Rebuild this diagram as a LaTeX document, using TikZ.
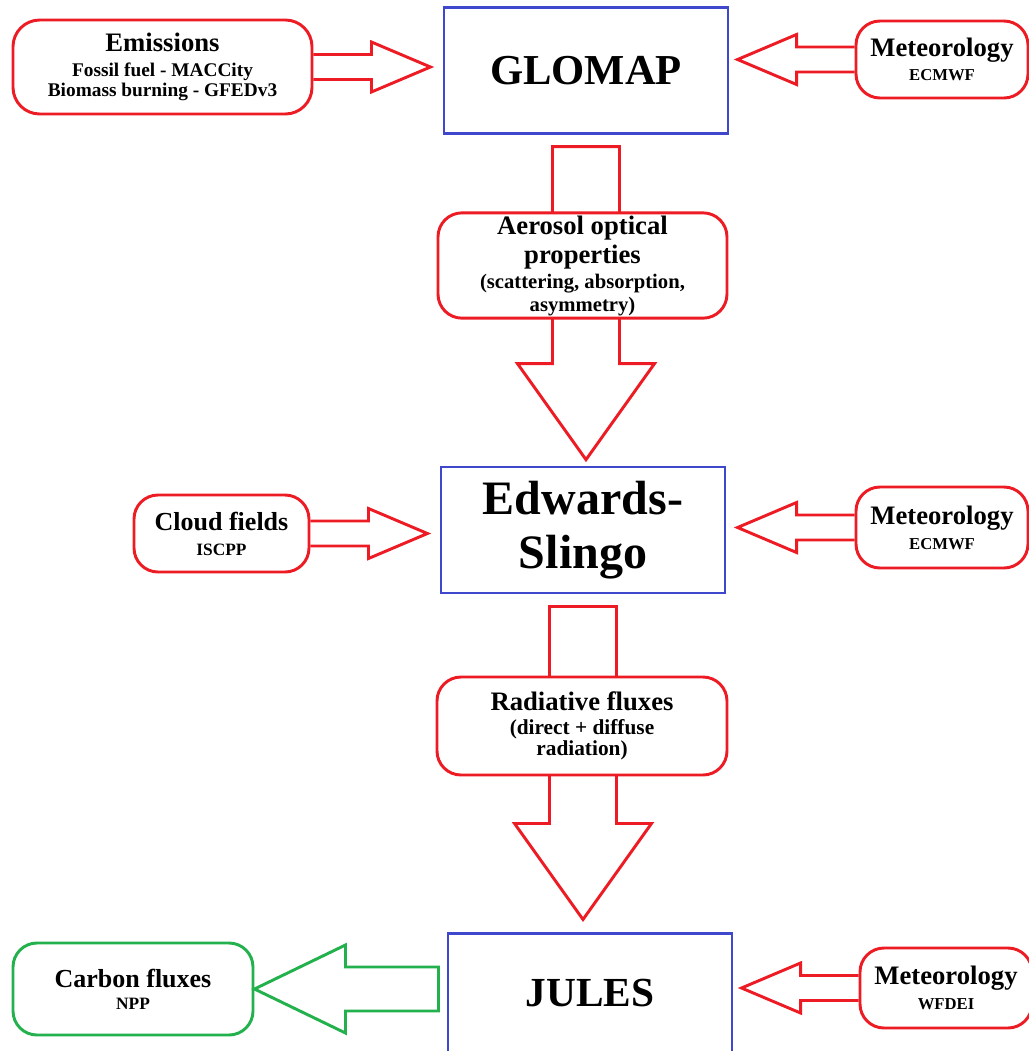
\documentclass[tikz,border=0pt]{standalone}
\usepackage{fontspec}
\setmainfont{Liberation Serif}
\definecolor{modelblue}{HTML}{3F48CC}
\definecolor{inred}{HTML}{ED1C24}
\definecolor{outgreen}{HTML}{22B14C}
\newcommand{\subtxt}[2]{{\fontsize{#1}{#1}\selectfont #2}}

\begin{document}
\begin{tikzpicture}[x=0.75pt,y=-0.75pt,
    modelbox/.style={draw=modelblue,line width=2.2pt,minimum width=213pt,minimum height=94pt,align=center},
    inbox/.style={draw=inred,line width=2.2pt,rounded corners=18pt,fill=white,align=center,inner sep=2pt,
      font=\bfseries\fontsize{20}{18.75}\selectfont},
    outbox/.style={inbox,draw=outgreen},
    inarrow/.style={draw=inred,line width=2.2pt,line join=miter},
    outarrow/.style={inarrow,draw=outgreen}]
  \useasboundingbox (0,0) rectangle (1029,1051);

  % models
  \node[modelbox,font=\bfseries\fontsize{32}{38}\selectfont] (glomap) at (586,70.5) {GLOMAP};
  \node[modelbox,minimum height=94.5pt,font=\bfseries\fontsize{36}{41}\selectfont] (edwards) at (583,530) {Edwards-\\Slingo};
  \node[modelbox,anchor=north,inner ysep=0pt,text height=55pt,text depth=62pt,
    font=\bfseries\fontsize{31}{36}\selectfont] (jules) at (590,932) {JULES};

  % model to model (the boxes on the way are drawn over them)
  \foreach \a in {glomap,edwards}
    \draw[inarrow] (\a.south) ++(-33.5,12) -- ++(0,217) -- ++(-35,0) -- ++(68.5,96)
      -- ++(68.5,-96) -- ++(-35,0) -- ++(0,-217) -- cycle;

  \node[inbox,minimum width=216.75pt,minimum height=74.25pt] (aerosol) at (582.5,265.5)
    {Aerosol optical\\[3.5pt]properties\\\subtxt{15.5}{(scattering, absorption,}\\[-2pt]\subtxt{15.5}{asymmetry)}};
  \node[inbox,minimum width=217.5pt,minimum height=73.5pt] (radiative) at (582,726)
    {Radiative fluxes\\[-0.75pt]\subtxt{16}{(direct + diffuse}\\[-3pt]\subtxt{16}{radiation)}};

  % inputs
  \node[inbox,rounded corners=20pt,minimum width=224.25pt,minimum height=70.5pt] (emis) at (162.5,67)
    {Emissions\\[-0.5pt]\subtxt{14.5}{Fossil fuel - MACCity}\\[-3.75pt]\subtxt{14.5}{Biomass burning - GFEDv3}};
  \node[inbox,minimum width=129pt,minimum height=57.75pt] (metA) at (942,59.5)
    {Meteorology\\[-1pt]\subtxt{12.5}{ECMWF}};
  \node[inbox,minimum width=131.25pt,minimum height=57.75pt,font=\bfseries\fontsize{19.5}{18.75}\selectfont] (cloud) at (221.5,533.5)
    {Cloud fields\\\subtxt{13}{ISCPP}};
  \node[inbox,minimum width=129pt,minimum height=60.75pt] (metB) at (942,527.5)
    {Meteorology\\\subtxt{12.5}{ECMWF}};
  \node[inbox,minimum width=129pt,minimum height=60pt] (metC) at (946,988)
    {Meteorology\\\subtxt{12.5}{WFDEI}};

  % output
  \node[outbox,minimum width=180pt,minimum height=69pt,font=\bfseries\fontsize{19.5}{16.5}\selectfont] (carbon) at (133,989)
    {Carbon fluxes\\\subtxt{13}{NPP}};

  \foreach \n/\s/\d in {emis/east/1,cloud/east/1,metA/west/-1,metB/west/-1,metC/west/-1}
    \draw[inarrow] (\n.\s) ++(0,-12.5) -- ++(\d*58,0) -- ++(0,-12.5) -- ++(\d*59,25)
      -- ++(\d*-59,25) -- ++(0,-12.5) -- ++(\d*-58,0);

  \draw[outarrow] (carbon.east) -- ++(91,-44) -- ++(0,22) -- ++(93,0) -- ++(0,44)
    -- ++(-93,0) -- ++(0,22) -- cycle;
\end{tikzpicture}
\end{document}
